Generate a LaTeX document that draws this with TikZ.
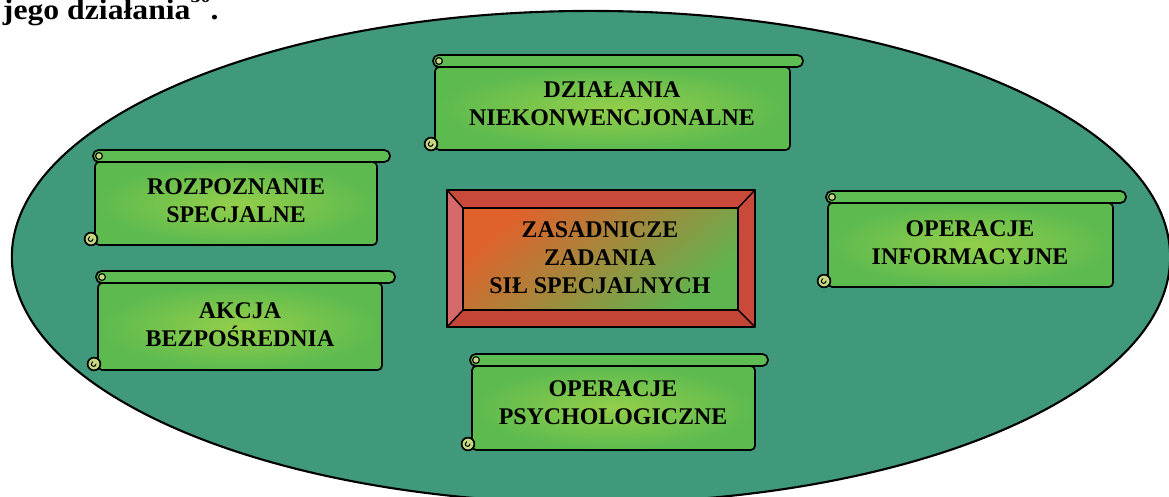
\documentclass[tikz,border=0pt]{standalone}
\usepackage{fontspec}
\setmainfont{Liberation Serif}
\usepackage{tikz}
\usetikzlibrary{calc}
\definecolor{tlo}{rgb}{0.25,0.60,0.48}
\definecolor{zwojjasny}{rgb}{0.58,0.81,0.29}
\definecolor{zwojciemny}{rgb}{0.36,0.73,0.31}
\definecolor{zwal}{rgb}{0.37,0.74,0.32}
\definecolor{lok}{rgb}{0.78,0.85,0.50}
\definecolor{ramka}{rgb}{0.79,0.29,0.23}
\definecolor{ramkajasna}{rgb}{0.84,0.41,0.41}
\definecolor{ramkaciemna}{rgb}{0.76,0.27,0.21}
\definecolor{pomarancz}{rgb}{0.88,0.38,0.17}
\definecolor{zolty}{rgb}{0.62,0.78,0.27}
\definecolor{zielen}{rgb}{0.37,0.71,0.31}
\tikzstyle{every node}=[font=\fontsize{17}{20}\selectfont\bfseries,align=center]
\newcommand{\zwoj}[4]{%
  \draw [line width=1.2pt,inner color=zwojjasny,outer color=zwojciemny,rounded corners=3pt] (#1,#2) -- (#1,#4) -- (#3,#4) -- (#3,#2) -- cycle;
  \draw [line width=1.2pt,fill=zwal,rounded corners=0.14cm] (#1-2,#2-12) rectangle (#3+13,#2);
  \draw [line width=0.8pt,fill=lok] (#1+4,#2-6) circle (0.085cm);
  \draw [line width=1.2pt,fill=lok] (#1-4,#4-6) circle (0.16cm);
  \draw [line width=0.7pt] (#1-2,#4-6) arc (0:-250:0.06cm);
}

\begin{document}
\begin{tikzpicture}[line cap=round,line join=round,x=0.025cm,y=-0.025cm]
\useasboundingbox (0,0) rectangle (1169,497);
\node (akapit) [anchor=base west,font=\fontsize{20.5}{24}\selectfont\bfseries,align=left] at (-2,20)
  {\scalebox{1.1}[1]{jego działania\raisebox{0.62em}{\fontsize{13}{13}\selectfont 30}.}};
\draw [line width=1.5pt,fill=tlo] (591,257) ellipse (14.475cm and 6.15cm);
\zwoj{435}{67}{790}{150}
\zwoj{95}{162}{377}{245}
\zwoj{98}{283}{382}{370}
\zwoj{828}{203}{1113}{287}
\zwoj{472}{366}{755}{450}
\coordinate (o1) at (447,190);
\coordinate (o2) at (755,190);
\coordinate (o3) at (755,327);
\coordinate (o4) at (447,327);
\coordinate (i1) at (463,208);
\coordinate (i2) at (738,208);
\coordinate (i3) at (738,310);
\coordinate (i4) at (463,310);
\fill [ramka] (o1) -- (o2) -- (i2) -- (i1) -- cycle;
\fill [ramka] (o2) -- (o3) -- (i3) -- (i2) -- cycle;
\fill [ramkaciemna] (o3) -- (o4) -- (i4) -- (i3) -- cycle;
\fill [ramkajasna] (o4) -- (o1) -- (i1) -- (i4) -- cycle;
\shade [left color=pomarancz,middle color=zolty,right color=zielen,shading angle=40] (i1) rectangle (i3);
\draw [line width=1.2pt] (o1) rectangle (o3);
\draw [line width=1.2pt] (i1) rectangle (i3);
\draw [line width=1pt] (o1) -- (i1) (o2) -- (i2) (o3) -- (i3) (o4) -- (i4);
\node (dzialania) at (612,104) {DZIAŁANIA\\NIEKONWENCJONALNE};
\node (rozpoznanie) at (236,201) {ROZPOZNANIE\\SPECJALNE};
\node (akcja) at (240,325) {AKCJA\\BEZPOŚREDNIA};
\node (informacyjne) at (970,243) {OPERACJE\\INFORMACYJNE};
\node (psychologiczne) at (613,403) {OPERACJE\\PSYCHOLOGICZNE};
\node (zadania) at (600,258) {ZASADNICZE\\ZADANIA\\SIŁ SPECJALNYCH};
\end{tikzpicture}
\end{document}
